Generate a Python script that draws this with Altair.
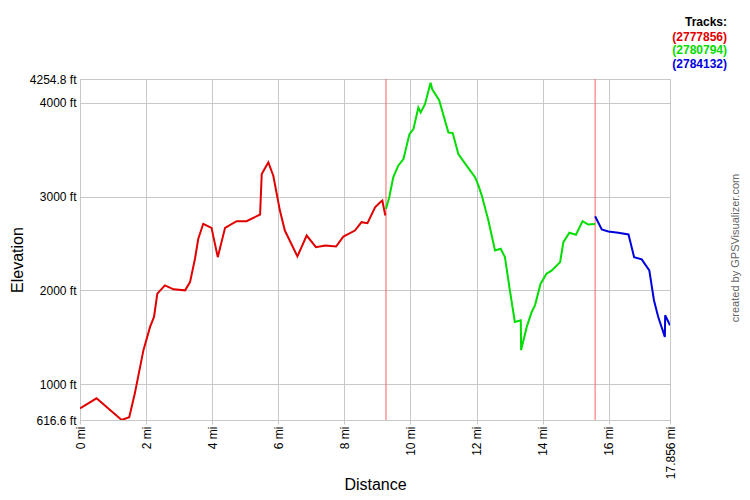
import altair as alt
import pandas as pd

# Track 1 (red)
red_mi = [0.0, 0.5, 1.26, 1.49, 1.66, 1.92, 2.12, 2.24, 2.34, 2.57, 2.83, 3.18, 3.33, 3.48, 3.58,
          3.73, 3.98, 4.17, 4.39, 4.74, 5.04, 5.45, 5.50, 5.70, 5.85, 6.05, 6.20, 6.58, 6.86,
          7.14, 7.42, 7.75, 7.97, 8.32, 8.52, 8.70, 8.93, 9.07, 9.15, 9.21, 9.24]
red_ft = [741, 848, 617, 646, 901, 1362, 1610, 1716, 1965, 2053, 2011, 2000, 2088, 2337, 2550,
          2710, 2667, 2354, 2667, 2738, 2738, 2809, 3242, 3366, 3223, 2851, 2638, 2362, 2585,
          2461, 2479, 2468, 2574, 2638, 2727, 2716, 2886, 2935, 2957, 2851, 2798]

# Track 2 (green)
green_mi = [9.26, 9.36, 9.48, 9.63, 9.79, 9.97, 10.09, 10.24, 10.31, 10.44, 10.61, 10.66, 10.87,
            11.15, 11.28, 11.45, 11.70, 11.96, 12.06, 12.16, 12.36, 12.56, 12.73, 12.86, 13.01,
            13.16, 13.34, 13.35, 13.52, 13.67, 13.77, 13.94, 14.12, 14.28, 14.53, 14.63, 14.81,
            15.01, 15.21, 15.38, 15.59]
green_ft = [2869, 2993, 3205, 3330, 3401, 3667, 3720, 3950, 3897, 3986, 4216, 4145, 4029,
            3684, 3678, 3454, 3330, 3205, 3117, 3011, 2745, 2426, 2444, 2354, 2000,
            1663, 1681, 1362, 1610, 1769, 1840, 2071, 2178, 2213, 2301, 2514, 2614,
            2593, 2738, 2702, 2709]

# Track 3 (blue)
blue_mi = [15.59, 15.79, 15.99, 16.29, 16.60, 16.77, 17.00, 17.23, 17.37, 17.50, 17.70, 17.71, 17.856]
blue_ft = [2791, 2649, 2628, 2614, 2596, 2354, 2330, 2213, 1894, 1716, 1503, 1734, 1628]

tracks = ["(2777856)", "(2780794)", "(2784132)"]
track_colors = ["#e00000", "#00dd00", "#0000dd"]
boundaries_mi = [9.26, 15.59]

x_ticks = [0, 2, 4, 6, 8, 10, 12, 14, 16, 17.856]
y_ticks = [616.6, 1000, 2000, 3000, 4000, 4254.8]
x_min, x_max = 0, 17.856
y_min, y_max = 616.6, 4254.8

rows = []
for name, xs, ys in zip(tracks, [red_mi, green_mi, blue_mi], [red_ft, green_ft, blue_ft]):
    for i, (a, b) in enumerate(zip(xs, ys)):
        rows.append({"track": name, "mi": a, "ft": b, "order": i})
df = pd.DataFrame(rows)

W, H = 590, 341
FONT = "Liberation Sans"

xscale = alt.Scale(domain=[x_min, x_max], nice=False, zero=False)
yscale = alt.Scale(domain=[y_min, y_max], nice=False, zero=False)

lines = alt.Chart(df).mark_line(strokeWidth=2, clip=True).encode(
    x=alt.X("mi:Q", scale=xscale, title="Distance",
            axis=alt.Axis(values=x_ticks, labelExpr="format(datum.value, '.3~f') + ' mi'",
                          labelAngle=270, labelFlush=False, labelOverlap=False,
                          labelFont=FONT, labelFontSize=12, labelColor="#000",
                          titleFont=FONT, titleFontSize=16, titleFontWeight="normal",
                          titleColor="#000", titleX=W / 2, titleY=64,
                          titleBaseline="middle", titleAlign="center",
                          gridColor="#c8c8c8", tickColor="#c8c8c8", tickSize=4,
                          domainColor="#c8c8c8")),
    y=alt.Y("ft:Q", scale=yscale, title="Elevation",
            axis=alt.Axis(values=y_ticks, labelExpr="format(datum.value, '.1~f') + ' ft'",
                          labelFlush=False, labelOverlap=False,
                          labelFont=FONT, labelFontSize=12, labelColor="#000",
                          titleFont=FONT, titleFontSize=16, titleFontWeight="normal",
                          titleColor="#000", titleX=-63, titleY=H / 2 + 10,
                          titleBaseline="middle", titleAlign="center", titleAngle=270,
                          gridColor="#c8c8c8", tickSize=0, labelPadding=4,
                          domainColor="#c8c8c8")),
    color=alt.Color("track:N", scale=alt.Scale(domain=tracks, range=track_colors), legend=None),
    order="order:Q",
)

bdf = pd.DataFrame({"mi": boundaries_mi})
rules = alt.Chart(bdf).mark_rule(color="#ff6060", strokeWidth=1).encode(
    x=alt.X("mi:Q", scale=xscale)
)

legend_title = alt.Chart(pd.DataFrame({"t": ["Tracks:"]})).mark_text(
    align="right", baseline="middle", font=FONT, fontSize=12, fontWeight="bold", color="#000"
).encode(x=alt.value(647), y=alt.value(-57), text="t:N")

legend_df = pd.DataFrame({"t": tracks, "c": track_colors, "yy": [-42, -29, -15]})
legend_items = alt.Chart(legend_df).mark_text(
    align="right", baseline="middle", font=FONT, fontSize=12, fontWeight="bold"
).encode(
    x=alt.value(647),
    y=alt.Y("yy:Q", scale=None),
    text="t:N",
    color=alt.Color("c:N", scale=None),
)

credit = alt.Chart(pd.DataFrame({"t": ["created by GPSVisualizer.com"]})).mark_text(
    align="center", baseline="middle", angle=270, font=FONT, fontSize=11, color="#666"
).encode(x=alt.value(656), y=alt.value(169), text="t:N")

chart = alt.layer(rules, lines, legend_title, legend_items, credit).properties(
    width=W, height=H,
    autosize=alt.AutoSizeParams(type="none"),
    padding={"left": 72, "top": 71, "right": 72, "bottom": 72},
).configure_view(stroke="#c8c8c8").configure(background="white")

chart.save("out.html", embed_options={"renderer": "svg", "actions": False})
